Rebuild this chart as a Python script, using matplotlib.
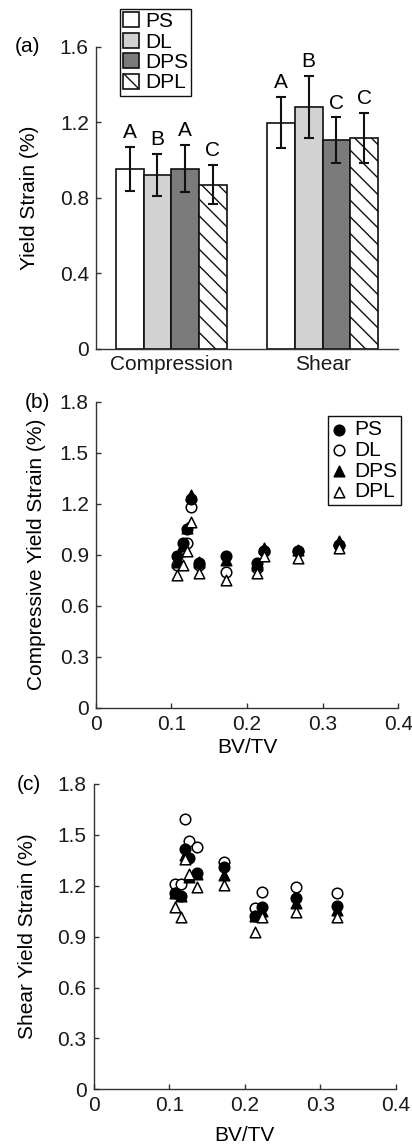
import matplotlib
matplotlib.use("Agg")
import matplotlib.pyplot as plt
import numpy as np

plt.rcParams["font.family"] = ["Liberation Sans", "DejaVu Sans"]
plt.rcParams["font.size"] = 15

# panel (a): mean yield strain with error bars
tests = ["Compression", "Shear"]
groups = ["PS", "DL", "DPS", "DPL"]
means = {
    "PS": [0.953, 1.198],
    "DL": [0.922, 1.280],
    "DPS": [0.955, 1.104],
    "DPL": [0.870, 1.117],
}
errs = {
    "PS": [0.118, 0.135],
    "DL": [0.110, 0.165],
    "DPS": [0.125, 0.122],
    "DPL": [0.105, 0.134],
}
letters = {
    "PS": ["A", "A"],
    "DL": ["B", "B"],
    "DPS": ["A", "C"],
    "DPL": ["C", "C"],
}

# panels (b) and (c): per-specimen yield strain vs BV/TV
bvtv = [0.107, 0.115, 0.121, 0.126, 0.137, 0.172, 0.213, 0.222, 0.268, 0.322]
comp_ps = [0.89, 0.97, 1.05, 1.23, 0.85, 0.89, 0.85, 0.92, 0.92, 0.96]
comp_dl = [0.84, 0.92, 0.97, 1.18, 0.84, 0.80, 0.82, 0.92, 0.92, 0.96]
comp_dps = [0.86, 0.95, 1.06, 1.25, 0.86, 0.87, 0.84, 0.94, 0.93, 0.98]
comp_dpl = [0.78, 0.84, 0.92, 1.09, 0.79, 0.75, 0.79, 0.89, 0.88, 0.94]
shear_ps = [1.155, 1.14, 1.415, 1.366, 1.277, 1.313, 1.022, 1.077, 1.126, 1.081]
shear_dl = [1.208, 1.208, 1.592, 1.464, 1.43, 1.342, 1.067, 1.165, 1.195, 1.155]
shear_dps = [1.16, 1.14, 1.38, 1.25, 1.27, 1.263, 1.02, 1.05, 1.10, 1.06]
shear_dpl = [1.073, 1.018, 1.356, 1.267, 1.195, 1.204, 0.929, 1.014, 1.047, 1.018]

BAR_STYLE = {
    "PS": dict(facecolor="white", hatch=None),
    "DL": dict(facecolor="#d2d2d2", hatch=None),
    "DPS": dict(facecolor="#7b7b7b", hatch=None),
    "DPL": dict(facecolor="white", hatch="\\\\"),
}
AXIS_COLOR = "#333333"


def style_axes(ax):
    for side in ("top", "right"):
        ax.spines[side].set_visible(False)
    for side in ("left", "bottom"):
        ax.spines[side].set_color(AXIS_COLOR)
        ax.spines[side].set_linewidth(1.0)
    ax.tick_params(direction="in", length=3.5, width=1.0, color=AXIS_COLOR,
                   labelcolor="#1a1a1a", pad=5)


fig = plt.figure(figsize=(4.12, 11.48), dpi=100)
plt.rcParams["hatch.linewidth"] = 1.0

# ---- (a) bars ----
ax_a = fig.add_axes([0.2323, 0.696, 0.734, 0.2633])
x = np.arange(1, len(tests) + 1)
w = 0.183
handles = []
for i, g in enumerate(groups):
    pos = x + (i - 1.5) * w
    st = BAR_STYLE[g]
    bars = ax_a.bar(pos, means[g], w, facecolor=st["facecolor"], hatch=st["hatch"],
                    edgecolor="#111111", linewidth=1.2, label=g, zorder=2)
    handles.append(bars)
    ax_a.errorbar(pos, means[g], yerr=errs[g], fmt="none", ecolor="#111111",
                  elinewidth=1.5, capsize=3.5, capthick=1.5, zorder=3)
    for p, m, e, lt in zip(pos, means[g], errs[g], letters[g]):
        ax_a.text(p, m + e + 0.025, lt, ha="center", va="bottom", fontsize=15)
ax_a.set_xlim(0.5, 2.5)
ax_a.set_ylim(0, 1.6)
ax_a.set_yticks([0, 0.4, 0.8, 1.2, 1.6])
ax_a.set_yticklabels(["0", "0.4", "0.8", "1.2", "1.6"])
ax_a.set_xticks(x)
ax_a.set_xticklabels(tests)
style_axes(ax_a)
ax_a.tick_params(axis="x", length=0, pad=4)
ax_a.set_ylabel("Yield Strain (%)", labelpad=15)
fig.legend(handles=handles, labels=groups, loc="upper left",
           bbox_to_anchor=(120 / 412, 1 - 9 / 1148), frameon=True, fancybox=False,
           edgecolor="#111111", framealpha=1, borderpad=0.15, labelspacing=0.07,
           handlelength=0.75, handleheight=0.75, handletextpad=0.3, borderaxespad=0)
fig.text(15 / 412, 1 - 46 / 1148, "(a)", ha="left", va="center", fontsize=15)


# ---- scatter panels ----
def scatter_panel(ax, ps, dl, dps, dpl):
    ax.scatter(bvtv, dl, s=58, marker="o", facecolor="white", edgecolor="black",
               linewidth=1.1, label="DL", zorder=3)
    ax.scatter(bvtv, ps, s=58, marker="o", facecolor="black", edgecolor="black",
               linewidth=1.1, label="PS", zorder=4)
    ax.scatter(bvtv, dps, s=58, marker="^", facecolor="black", edgecolor="black",
               linewidth=1.1, label="DPS", zorder=5)
    ax.scatter(bvtv, dpl, s=58, marker="^", facecolor="white", edgecolor="black",
               linewidth=1.1, label="DPL", zorder=6)
    ax.set_xlim(0, 0.4)
    ax.set_ylim(0, 1.8)
    ax.set_xticks([0, 0.1, 0.2, 0.3, 0.4])
    ax.set_xticklabels(["0", "0.1", "0.2", "0.3", "0.4"])
    ax.set_yticks([0, 0.3, 0.6, 0.9, 1.2, 1.5, 1.8])
    ax.set_yticklabels(["0", "0.3", "0.6", "0.9", "1.2", "1.5", "1.8"])
    style_axes(ax)


ax_b = fig.add_axes([0.2323, 0.3835, 0.7346, 0.2665])
scatter_panel(ax_b, comp_ps, comp_dl, comp_dps, comp_dpl)
ax_b.set_xlabel("BV/TV", labelpad=3)
ax_b.set_ylabel("Compressive Yield Strain (%)", labelpad=10)
h, l = ax_b.get_legend_handles_labels()
order = [l.index(n) for n in groups]
ax_b.legend([h[k] for k in order], [l[k] for k in order], loc="upper left",
            bbox_to_anchor=(328 / 412, 1 - 416 / 1148), bbox_transform=fig.transFigure,
            frameon=True, fancybox=False, edgecolor="#111111", framealpha=1,
            borderpad=0.2, labelspacing=0.08, handlelength=0.7, handletextpad=0.35,
            markerscale=1.0, borderaxespad=0)
fig.text(25 / 412, 1 - 402 / 1148, "(b)", ha="left", va="center", fontsize=15)

ax_c = fig.add_axes([0.2274, 0.0511, 0.7339, 0.266])
scatter_panel(ax_c, shear_ps, shear_dl, shear_dps, shear_dpl)
ax_c.set_xlabel("BV/TV", labelpad=8)
ax_c.set_ylabel("Shear Yield Strain (%)", labelpad=15)
fig.text(17 / 412, 1 - 784 / 1148, "(c)", ha="left", va="center", fontsize=15)

fig.savefig("out.png", dpi=100)
